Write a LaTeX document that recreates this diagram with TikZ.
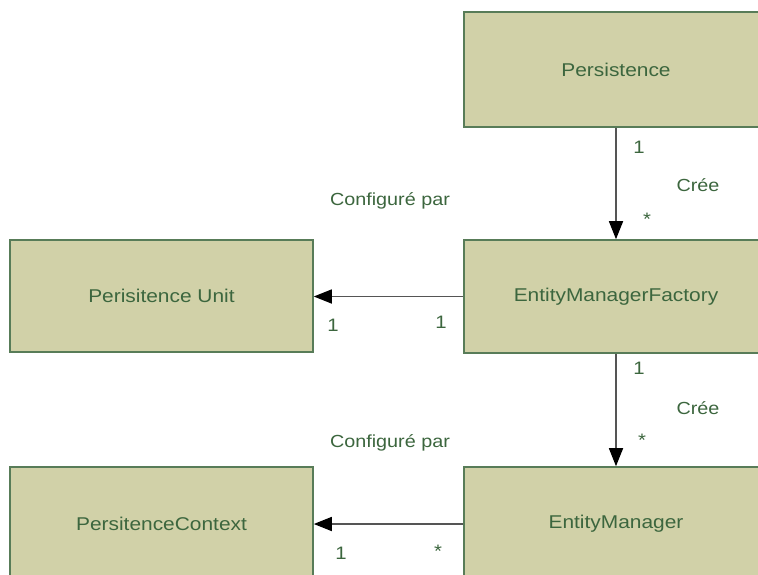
\documentclass[tikz,border=0pt]{standalone}
\usepackage{fontspec}
\setmainfont[FakeStretch=1.13]{Liberation Sans}
\usetikzlibrary{arrows.meta}
\definecolor{boxfill}{RGB}{209,209,168}
\definecolor{boxline}{RGB}{88,124,88}
\definecolor{boxtext}{RGB}{60,102,62}
\definecolor{linkgray}{RGB}{85,85,85}
\tikzset{
  classbox/.style={draw=boxline, line width=1.6pt, fill=boxfill, text=boxtext,
    minimum width=304pt, inner sep=0pt, font=\fontsize{18.5}{20}\selectfont},
  assoc/.style={draw=linkgray, line width=1.6pt,
    -{Triangle[length=18pt,width=14pt,color=black]}},
  rolelabel/.style={text=boxtext, inner sep=0pt, font=\fontsize{17.5}{19}\selectfont},
  multlabel/.style={text=boxtext, inner sep=0pt, font=\fontsize{18}{20}\selectfont}
}
\begin{document}
\begin{tikzpicture}[x=1pt,y=-1pt]
  \useasboundingbox (0,0) rectangle (758,574);
  \clip (0,0) rectangle (758,574);
  \fill[white] (0,0) rectangle (758,574);

  % classes
  \node[classbox, minimum height=115pt] (pers) at (616,69.5) {Persistence};
  \node[classbox, minimum height=113pt] (emf)  at (616,296.5) {EntityManagerFactory};
  \node[classbox, minimum width=303pt, minimum height=112pt] (pu) at (161.5,296) {Perisitence Unit};
  \node[classbox, minimum height=114pt] (em)   at (616,524) {EntityManager};
  \node[classbox, minimum width=303pt, minimum height=114pt] (pc) at (161.5,524) {PersitenceContext};

  % associations
  \draw[assoc] (pers.south) -- (emf.north);
  \draw[assoc] (emf.west) -- (emf.west -| pu.east);
  \draw[assoc] (emf.south) -- (em.north);
  \draw[assoc] (em.west) -- (em.west -| pc.east);

  % role names
  \node[rolelabel] (lc1) at (390,201) {Configuré par};
  \node[rolelabel] (lc2) at (390,443) {Configuré par};
  \node[rolelabel] (lk1) at (698,185) {Crée};
  \node[rolelabel] (lk2) at (698,408) {Crée};

  % multiplicities
  \node[multlabel] (m1) at (639,147) {1};
  \node[multlabel] (m2) at (647,219) {*};
  \node[multlabel] (m3) at (639,368) {1};
  \node[multlabel] (m4) at (642,440) {*};
  \node[multlabel] (m5) at (333,325) {1};
  \node[multlabel] (m6) at (441,322) {1};
  \node[multlabel] (m7) at (341,553) {1};
  \node[multlabel] (m8) at (438,551) {*};
\end{tikzpicture}
\end{document}
